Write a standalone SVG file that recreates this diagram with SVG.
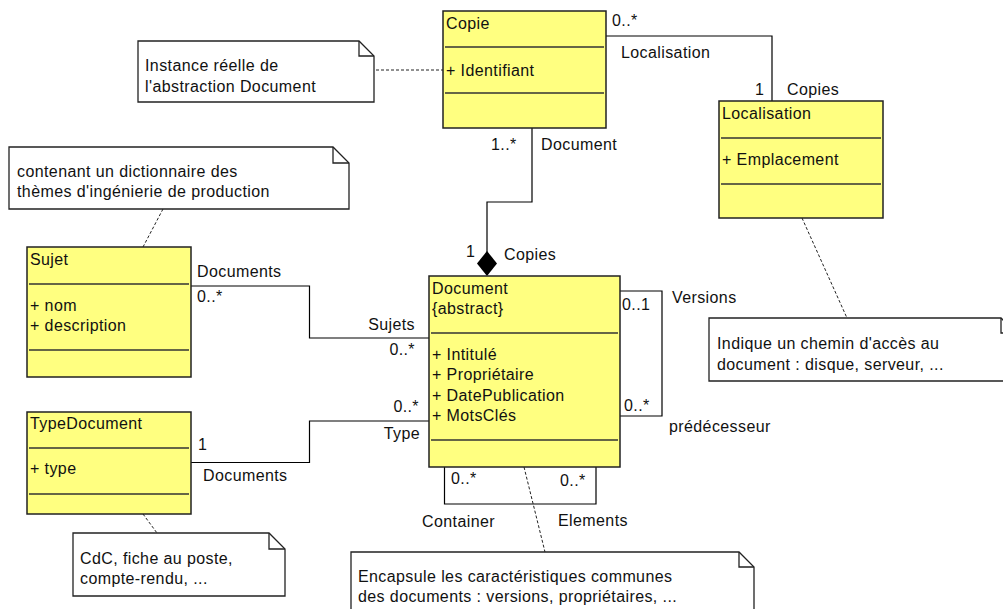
<svg xmlns="http://www.w3.org/2000/svg" width="1003" height="609" viewBox="0 0 1003 609">
<style>
text{font-family:"Liberation Sans",Arial,sans-serif;font-size:16px;letter-spacing:0.4px;fill:#111}
.cls{fill:#ffff80;stroke:#222;stroke-width:1.5}
.sep{stroke:#333;stroke-width:1.5}
.note{fill:#fff;stroke:#222;stroke-width:1.3}
.fold{fill:none;stroke:#222;stroke-width:1.3}
.ln{fill:none;stroke:#000;stroke-width:1.2}
.dash{fill:none;stroke:#222;stroke-width:1;stroke-dasharray:3,2}
.end{text-anchor:end}
</style>
<rect width="1003" height="609" fill="#fff"/>
<g id="connectors">
<polyline class="ln" points="606,36 772,36 772,101"/>
<polyline class="ln" points="532,128 532,202 487,202 487,252"/>
<polygon points="487,251 497,263.5 487,276 477,263.5" fill="#000"/>
<polyline class="ln" points="191,286 309.5,286 309.5,338 429,338"/>
<polyline class="ln" points="191,462.5 309.5,462.5 309.5,421 429,421"/>
<polyline class="ln" points="620,291 662,291 662,416 620,416"/>
<polyline class="ln" points="444.5,467 444.5,504 596,504 596,467"/>
<line class="dash" x1="376" y1="70" x2="443" y2="70"/>
<line class="dash" x1="163" y1="209" x2="143" y2="247"/>
<line class="dash" x1="143" y1="514" x2="157" y2="533"/>
<line class="dash" x1="802" y1="218" x2="847" y2="318"/>
<line class="dash" x1="524" y1="467" x2="545" y2="552"/>
<text x="612" y="26">0..*</text>
<text x="621" y="58">Localisation</text>
<text x="755" y="95">1</text>
<text x="787" y="95">Copies</text>
<text x="491" y="150">1..*</text>
<text x="541" y="150">Document</text>
<text x="466" y="257">1</text>
<text x="504" y="260">Copies</text>
<text x="197" y="277">Documents</text>
<text x="197" y="302">0..*</text>
<text class="end" x="415" y="330">Sujets</text>
<text class="end" x="415" y="355">0..*</text>
<text class="end" x="419" y="412">0..*</text>
<text class="end" x="420" y="439">Type</text>
<text x="198" y="450">1</text>
<text x="203" y="481">Documents</text>
<text x="622" y="310">0..1</text>
<text x="672" y="303">Versions</text>
<text x="624" y="411">0..*</text>
<text x="669" y="432">prédécesseur</text>
<text x="451" y="484">0..*</text>
<text x="560" y="486">0..*</text>
<text x="422" y="527">Container</text>
<text x="558" y="526">Elements</text>
</g>
<g id="note-copie">
<path class="note" d="M138,41 H359 L374,56 V102 H138 Z"/>
<path class="fold" d="M359,41 V56 H374"/>
<text x="145" y="71">Instance réelle de</text>
<text x="145" y="92">l'abstraction Document</text>
</g>
<g id="note-sujet">
<path class="note" d="M9,147 H333 L349,163 V209 H9 Z"/>
<path class="fold" d="M333,147 V163 H349"/>
<text x="17" y="177">contenant un dictionnaire des</text>
<text x="17" y="197">thèmes d'ingénierie de production</text>
</g>
<g id="note-typedocument">
<path class="note" d="M73,533 H269 L285,549 V596 H73 Z"/>
<path class="fold" d="M269,533 V549 H285"/>
<text x="80" y="564">CdC, fiche au poste,</text>
<text x="80" y="584">compte-rendu, ...</text>
</g>
<g id="note-localisation">
<path class="note" d="M709,318 H1001 L1016,333 V381 H709 Z"/>
<path class="fold" d="M1001,318 V333 H1016"/>
<text x="717" y="349">Indique un chemin d'accès au</text>
<text x="717" y="370">document : disque, serveur, ...</text>
</g>
<g id="note-document">
<path class="note" d="M351,552 H739 L754,567 V630 H351 Z"/>
<path class="fold" d="M739,552 V567 H754"/>
<text x="358" y="582">Encapsule les caractéristiques communes</text>
<text x="358" y="602">des documents : versions, propriétaires, ...</text>
</g>
<g id="class-copie">
<rect class="cls" x="443" y="11" width="163" height="117"/>
<line class="sep" x1="445" y1="47" x2="604" y2="47"/>
<line class="sep" x1="445" y1="93" x2="604" y2="93"/>
<text x="446" y="29">Copie</text>
<text x="446" y="76">+ Identifiant</text>
</g>
<g id="class-localisation">
<rect class="cls" x="719" y="101" width="164" height="117"/>
<line class="sep" x1="721" y1="138" x2="881" y2="138"/>
<line class="sep" x1="721" y1="184" x2="881" y2="184"/>
<text x="722" y="119">Localisation</text>
<text x="722" y="165">+ Emplacement</text>
</g>
<g id="class-sujet">
<rect class="cls" x="27" y="247" width="164" height="130"/>
<line class="sep" x1="29" y1="284" x2="189" y2="284"/>
<line class="sep" x1="29" y1="350" x2="189" y2="350"/>
<text x="30" y="265">Sujet</text>
<text x="30" y="311">+ nom</text>
<text x="30" y="331">+ description</text>
</g>
<g id="class-typedocument">
<rect class="cls" x="27" y="412" width="164" height="102"/>
<line class="sep" x1="29" y1="448" x2="189" y2="448"/>
<line class="sep" x1="29" y1="494" x2="189" y2="494"/>
<text x="30" y="429">TypeDocument</text>
<text x="30" y="474">+ type</text>
</g>
<g id="class-document">
<rect class="cls" x="429" y="276" width="191" height="191"/>
<line class="sep" x1="431" y1="333" x2="618" y2="333"/>
<line class="sep" x1="431" y1="440" x2="618" y2="440"/>
<text x="432" y="294">Document</text>
<text x="432" y="314">{abstract}</text>
<text x="432" y="360">+ Intitulé</text>
<text x="432" y="380">+ Propriétaire</text>
<text x="432" y="401">+ DatePublication</text>
<text x="432" y="421">+ MotsClés</text>
</g>
</svg>
